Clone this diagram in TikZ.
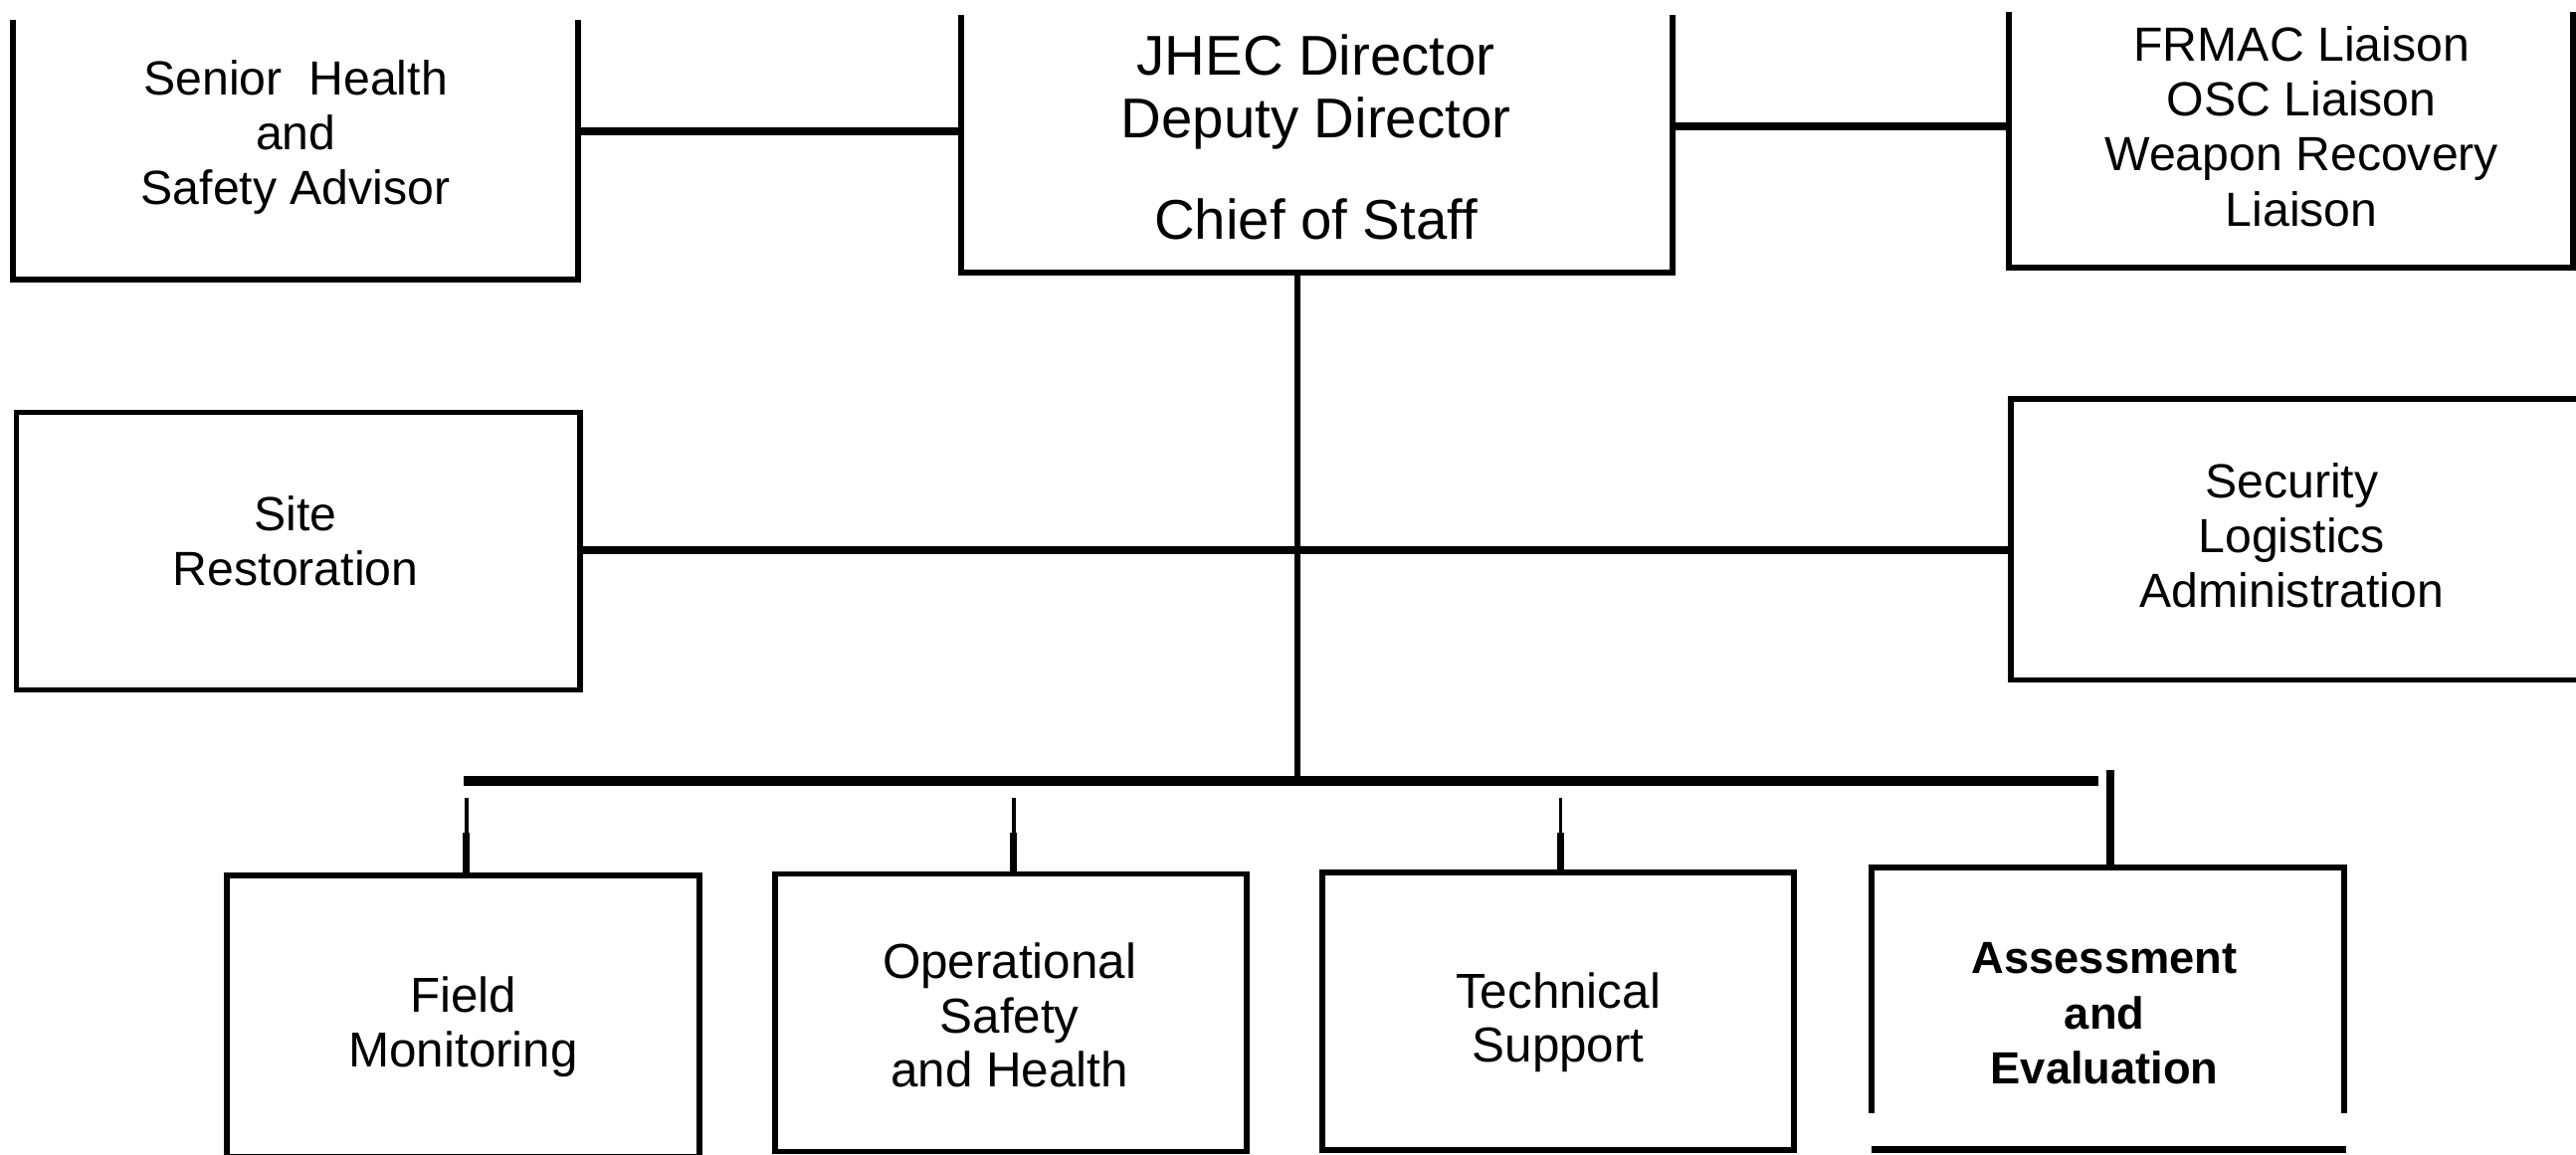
\documentclass[tikz,border=0pt]{standalone}
\usepackage{fontspec}
\setmainfont{Liberation Sans}
\usetikzlibrary{fit}
\begin{document}
\begin{tikzpicture}[x=0.01cm,y=-0.01cm,
  boxline/.style={line width=1.0pt, line join=miter},
  conn/.style={line width=1.45pt},
  spineline/.style={line width=1.05pt},
  busline/.style={line width=1.7pt},
  tickline/.style={line width=1.45pt},
  dropthin/.style={line width=0.6pt},
  dropthick/.style={line width=1.2pt},
  frame/.style={inner sep=0pt, outer sep=0pt, draw=none},
  txt/.style={align=center, inner sep=0pt, font=\fontsize{8.3}{9.5}\selectfont},
  bigtxt/.style={align=center, inner sep=0pt, font=\fontsize{9.7}{10.8}\selectfont},
  lowtxt/.style={align=center, inner sep=0pt, font=\fontsize{8.5}{9.4}\selectfont},
  boldtxt/.style={align=center, inner sep=0pt, font=\fontsize{7.8}{9.6}\selectfont\bfseries}
]
\useasboundingbox (0,0) rectangle (1568,703);

% ---------- box frames ----------
\node[frame, fit={(8,12) (352,170)}] (sh) {};
\node[frame, fit={(585,9) (1018,166)}] (jh) {};
\node[frame, fit={(1223,7) (1566,163)}] (fr) {};
\node[frame, fit={(10,251) (353,420)}] (sr) {};
\node[frame, fit={(1224,243) (1575,414)}] (sl) {};
\node[frame, fit={(138,533) (426,704)}] (fm) {};
\node[frame, fit={(472,532) (759,701)}] (op) {};
\node[frame, fit={(805,531) (1092,700)}] (ts) {};
\node[frame, fit={(1139,528) (1427,678)}] (ae) {};

% open-top boxes (cut by the page edge)
\draw[boxline] (sh.north west) -- (sh.south west) -- (sh.south east) -- (sh.north east);
\draw[boxline] (jh.north west) -- (jh.south west) -- (jh.south east) -- (jh.north east);
\draw[boxline] (fr.north west) -- (fr.south west) -- (fr.south east) -- (fr.north east);
% closed / partly open boxes
\draw[boxline] (sr.north west) rectangle (sr.south east);
\draw[boxline] (sl.north east) -- (sl.north west) -- (sl.south west) -- (sl.south east);
\draw[boxline] (fm.north west) rectangle (fm.south east);
\draw[boxline] (op.north west) rectangle (op.south east);
\draw[boxline] (ts.north west) rectangle (ts.south east);
\draw[boxline] (ae.south west) -- (ae.north west) -- (ae.north east) -- (ae.south east);
\coordinate (aebot) at (0,700);
\draw[line width=1.2pt] (ae.south west |- aebot) -- ([xshift=0.01cm]ae.south east |- aebot);

% ---------- texts ----------
\node[txt] (shT) at (180,83.5) {Senior~~Health\\and\\Safety Advisor};
\node[bigtxt] (jhT) at (801,83.5) {JHEC Director\\Deputy Director\\[6.8pt]Chief of Staff};
\node[txt] (frT) at (1401,77) {FRMAC Liaison\\OSC Liaison\\Weapon Recovery\\Liaison};
\node[txt] (srT) at (180,329.5) {Site\\Restoration};
\node[txt] (slT) at (1395,326) {Security\\Logistics\\Administration};
\node[lowtxt] (fmT) at (282,625) {Field\\Monitoring};
\node[lowtxt] (opT) at (614.5,618) {Operational\\Safety\\and Health};
\node[lowtxt] (tsT) at (948.5,622.5) {Technical\\Support};
\node[boldtxt] (aeT) at (1281,617) {Assessment\\and\\Evaluation};

% ---------- connectors ----------
\coordinate (lvlA) at (0,80);
\coordinate (lvlF) at (0,77);
\coordinate (lvlB) at (0,335);
\draw[conn] (sh.east |- lvlA) -- (jh.west |- lvlA);
\draw[conn] (jh.east |- lvlF) -- (fr.west |- lvlF);
\draw[conn] (sr.east |- lvlB) -- (sl.west |- lvlB);

\coordinate (spine) at (790,474);
\draw[spineline] (jh.south -| spine) -- (spine);

\coordinate (busL) at (282,475.5);
\coordinate (busR) at (1277,475.5);
\draw[busline] (busL) -- (busR);

\coordinate (tickTop) at (1284.5,469);
\draw[tickline] (tickTop) -- (ae.north -| tickTop);

\coordinate (dFM) at (284,486);   \coordinate (dFMm) at (284,507);
\coordinate (dOP) at (617,486);   \coordinate (dOPm) at (617,507);
\coordinate (dTS) at (950,486);   \coordinate (dTSm) at (950,507);
\draw[dropthin] (dFM) -- (dFMm);
\draw[dropthick] (dFMm) -- (fm.north -| dFM);
\draw[dropthin] (dOP) -- (dOPm);
\draw[dropthick] (dOPm) -- (op.north -| dOP);
\draw[dropthin] (dTS) -- (dTSm);
\draw[dropthick] (dTSm) -- (ts.north -| dTS);
\end{tikzpicture}
\end{document}
